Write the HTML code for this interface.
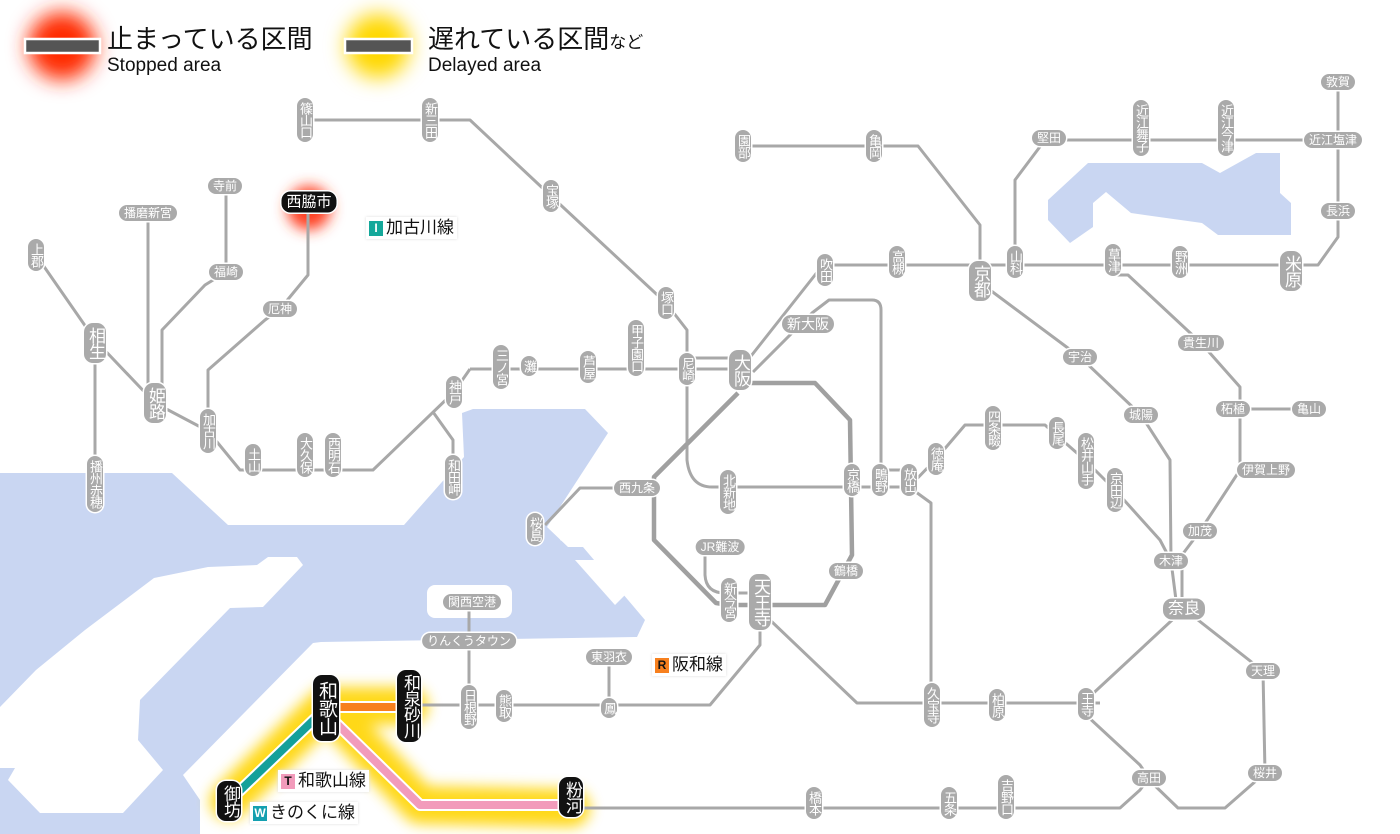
<!DOCTYPE html>
<html><head><meta charset="utf-8"><style>
body{margin:0;width:1400px;height:834px;overflow:hidden;background:#fff;font-family:"Liberation Sans","Noto Sans CJK JP",sans-serif;position:relative}
svg{position:absolute;left:0;top:0}
.s{position:absolute;transform:translate(-50%,-50%);background:#aaa;color:#fff;border-radius:9px;font-size:12px;line-height:14px;text-align:center;box-shadow:0 0 0 1.5px #fff;white-space:nowrap}
.h{padding:1px 5px}
.v{writing-mode:vertical-rl;padding:4px 1px;font-size:13px;line-height:14px;letter-spacing:-1px}
.b{font-size:17px;line-height:20px}
.k{background:#111;box-shadow:0 0 0 1.5px #fff}
.t{position:absolute;color:#111}
.lab{position:absolute;font-size:17px;color:#111;background:#fff;padding:1px 3px;box-shadow:0 0 3px #ddd;line-height:20px}
.sq{display:inline-block;width:14px;height:15px;line-height:15px;font-size:12px;color:#fff;text-align:center;margin-right:3px;vertical-align:1px;font-weight:bold}
</style></head><body>
<svg width="1400" height="834" viewBox="0 0 1400 834">
<defs>
<filter id="bl" x="-50%" y="-50%" width="200%" height="200%"><feGaussianBlur stdDeviation="10"/></filter>
<filter id="bl2" x="-50%" y="-50%" width="200%" height="200%"><feGaussianBlur stdDeviation="7"/></filter>
</defs>
<g fill="#c9d6f2">
<polygon points="0,473 172,473 228,525 404,525 464,457 462,413 473,409 585,409 608,433 547,527 568,547 583,547 645,620 637,637 321,642 313,643 183,775 200,800 200,834 0,834"/>
<polygon points="1088,163 1202,163 1220,173 1256,153 1280,153 1280,193 1291,203 1291,235 1218,235 1202,223 1131,213 1106,192 1093,203 1093,227 1070,243 1048,220 1048,200"/>
</g>
<g fill="#fff">
<polygon points="268,557 297,557 303,565 263,607 230,608 140,700 138,740 163,770 123,813 40,813 8,780 15,768 0,768 0,707 36,670 85,630 154,578 208,567 257,565"/>
<rect x="427" y="585" width="85" height="33" rx="8"/>
<polygon points="593,500 600,505 570,545 560,540"/>
<polygon points="575,560 600,560 625,595 615,605"/>
</g>
<circle cx="62" cy="46" r="34" fill="#ff2a00" filter="url(#bl)"/>
<circle cx="378" cy="46" r="32" fill="#ffd800" filter="url(#bl)"/>
<circle cx="309" cy="208" r="22" fill="#ff4020" filter="url(#bl2)"/>
<g fill="none" stroke="#ffd400" stroke-width="38" stroke-linejoin="round" stroke-linecap="round" filter="url(#bl2)" opacity="0.9">
<path d="M409,706 L326,706 L229,801 M326,706 L420,805 L571,808"/>
</g>
<rect x="25" y="39" width="75" height="14" fill="#555" stroke="#fff" stroke-width="2.5"/>
<rect x="345" y="39" width="67" height="14" fill="#555" stroke="#fff" stroke-width="2.5"/>
<g fill="none" stroke="#a8a8a8" stroke-width="3" stroke-linejoin="round">
<path d="M305,120 L470,120 L551,196 L666,303 L687,330 L687,460 Q690,487 712,487 L909,487"/>
<path d="M687,358 L740,358"/>
<path d="M470,369 L740,369"/>
<path d="M470,369 L454,392 L373,470 L240,470 L208,431 L155,403 L95,340 L36,255"/>
<path d="M433,412 L453,440 L453,480"/>
<path d="M95,340 L95,484"/>
<path d="M148,403 L148,213"/>
<path d="M162,400 L162,330 L205,285 L226,272 L226,186"/>
<path d="M208,431 L208,370 L265,320 L280,309 L308,275 L308,202"/>
<path d="M740,370 L815,275 Q822,265 835,265 L1318,265 L1338,237 L1338,82"/>
<path d="M753,372 L812,313 L829,300 L872,300 Q881,300 881,310 L881,487"/>
<path d="M743,146 L918,146 L980,225 L980,280"/>
<path d="M1015,262 L1015,180 L1045,140 L1333,140"/>
<path d="M990,290 L1080,357 L1141,415 L1170,460 L1171,561 L1176,600"/>
<path d="M1113,275 L1128,275 L1201,343 L1240,387 L1240,470 L1200,531 L1182,555 L1182,600"/>
<path d="M1233,409 L1309,409"/>
<path d="M1184,609 L1086,700 M1100,703 L857,703 L770,620"/>
<path d="M1184,609 L1263,671 L1265,773 L1225,808 L1178,808 L1149,780"/>
<path d="M1086,715 L1140,765 L1149,778 L1140,790 L1120,808 L571,808"/>
<path d="M909,487 L936,459 L965,425 L1045,425 L1086,461 L1115,490 L1160,540 L1171,561"/>
<path d="M909,487 L931,503 L931,707"/>
<path d="M637,488 L580,488 L545,525"/>
<path d="M705,548 L705,575 Q706,593 725,593 L760,593"/>
<path d="M760,602 L760,645 L710,705 L409,705"/>
<path d="M609,657 L609,705"/>
<path d="M469,602 L469,707"/>
<path d="M880,470 L909,470"/>
</g>
<path d="M742,383 L815,383 L850,420 L852,555 L825,605 L729,605 L716,603 L654,540 L654,477 L738,393" fill="none" stroke="#a0a0a0" stroke-width="4.5" stroke-linejoin="round"/>
<g fill="none" stroke-linejoin="round">
<path d="M326,707 L409,707" stroke="#fff" stroke-width="12"/>
<path d="M326,707 L409,707" stroke="#f7801e" stroke-width="8"/>
<path d="M322,712 L229,801" stroke="#fff" stroke-width="12"/>
<path d="M322,712 L229,801" stroke="#14a09a" stroke-width="8"/>
<path d="M335,722 L420,805 L571,805" stroke="#fff" stroke-width="12"/>
<path d="M335,722 L420,805 L571,805" stroke="#f29bbb" stroke-width="8"/>
</g>
</svg>

<div class="t" style="left:107px;top:24px;font-size:26px;line-height:30px">止まっている区間</div>
<div class="t" style="left:107px;top:55px;font-size:19px;line-height:22px">Stopped area</div>
<div class="t" style="left:428px;top:24px;font-size:26px;line-height:30px">遅れている区間<span style="font-size:17px">など</span></div>
<div class="t" style="left:428px;top:55px;font-size:19px;line-height:22px">Delayed area</div>

<div class="lab" style="left:366px;top:217px"><span class="sq" style="background:#14a89a">I</span>加古川線</div>
<div class="lab" style="left:652px;top:654px"><span class="sq" style="background:#f7801e;color:#111">R</span>阪和線</div>
<div class="lab" style="left:278px;top:770px"><span class="sq" style="background:#f29bbb;color:#111">T</span>和歌山線</div>
<div class="lab" style="left:250px;top:802px"><span class="sq" style="background:#14a0b0">W</span>きのくに線</div>

<div class="s v" style="left:305px;top:120px">篠山口</div>
<div class="s v" style="left:430px;top:120px">新三田</div>
<div class="s v" style="left:551px;top:196px">宝塚</div>
<div class="s v" style="left:666px;top:303px">塚口</div>
<div class="s v" style="left:687px;top:369px">尼崎</div>
<div class="s v" style="left:636px;top:348px">甲子園口</div>
<div class="s v" style="left:588px;top:367px">芦屋</div>
<div class="s v" style="left:529px;top:366px">灘</div>
<div class="s v" style="left:501px;top:367px">三ノ宮</div>
<div class="s v" style="left:454px;top:392px">神戸</div>
<div class="s v" style="left:453px;top:477px">和田岬</div>
<div class="s v" style="left:333px;top:455px">西明石</div>
<div class="s v" style="left:305px;top:455px">大久保</div>
<div class="s v" style="left:253px;top:460px">土山</div>
<div class="s v" style="left:208px;top:431px">加古川</div>
<div class="s v b" style="left:155px;top:403px">姫路</div>
<div class="s v b" style="left:95px;top:343px">相生</div>
<div class="s v" style="left:36px;top:255px">上郡</div>
<div class="s v" style="left:95px;top:484px">播州赤穂</div>
<div class="s v" style="left:743px;top:146px">園部</div>
<div class="s v" style="left:874px;top:146px">亀岡</div>
<div class="s v b" style="left:980px;top:281px">京都</div>
<div class="s v" style="left:1015px;top:262px">山科</div>
<div class="s v" style="left:1141px;top:128px">近江舞子</div>
<div class="s v" style="left:1226px;top:128px">近江今津</div>
<div class="s v b" style="left:1291px;top:271px">米原</div>
<div class="s v" style="left:1180px;top:262px">野洲</div>
<div class="s v" style="left:1113px;top:260px">草津</div>
<div class="s v" style="left:897px;top:262px">高槻</div>
<div class="s v" style="left:825px;top:270px">吹田</div>
<div class="s v b" style="left:740px;top:370px">大阪</div>
<div class="s v" style="left:1086px;top:704px">王寺</div>
<div class="s v" style="left:997px;top:705px">柏原</div>
<div class="s v" style="left:932px;top:705px">久宝寺</div>
<div class="s v" style="left:1006px;top:797px">吉野口</div>
<div class="s v" style="left:949px;top:803px">五条</div>
<div class="s v" style="left:814px;top:803px">橋本</div>
<div class="s v" style="left:993px;top:428px">四条畷</div>
<div class="s v" style="left:1057px;top:433px">長尾</div>
<div class="s v" style="left:1086px;top:461px">松井山手</div>
<div class="s v" style="left:1115px;top:490px">京田辺</div>
<div class="s v" style="left:936px;top:459px">徳庵</div>
<div class="s v" style="left:909px;top:480px">放出</div>
<div class="s v" style="left:880px;top:480px">鴫野</div>
<div class="s v" style="left:852px;top:480px">京橋</div>
<div class="s v" style="left:728px;top:492px">北新地</div>
<div class="s v" style="left:535px;top:529px">桜島</div>
<div class="s v" style="left:729px;top:600px">新今宮</div>
<div class="s v b" style="left:760px;top:602px">天王寺</div>
<div class="s v" style="left:609px;top:708px">鳳</div>
<div class="s v" style="left:504px;top:706px">熊取</div>
<div class="s v" style="left:469px;top:707px">日根野</div>
<div class="s h" style="left:148px;top:213px">播磨新宮</div>
<div class="s h" style="left:225px;top:186px">寺前</div>
<div class="s h" style="left:226px;top:272px">福崎</div>
<div class="s h" style="left:280px;top:309px">厄神</div>
<div class="s h" style="left:1049px;top:138px">堅田</div>
<div class="s h" style="left:1338px;top:82px">敦賀</div>
<div class="s h" style="left:1333px;top:140px">近江塩津</div>
<div class="s h" style="left:1338px;top:211px">長浜</div>
<div class="s h" style="left:808px;top:324px;font-size:14px;line-height:16px">新大阪</div>
<div class="s h" style="left:1080px;top:357px">宇治</div>
<div class="s h" style="left:1201px;top:343px">貴生川</div>
<div class="s h" style="left:1141px;top:415px">城陽</div>
<div class="s h" style="left:1233px;top:409px">柘植</div>
<div class="s h" style="left:1309px;top:409px">亀山</div>
<div class="s h" style="left:1266px;top:470px">伊賀上野</div>
<div class="s h" style="left:1200px;top:531px">加茂</div>
<div class="s h" style="left:1171px;top:561px">木津</div>
<div class="s h" style="left:1184px;top:609px;font-size:16px;line-height:19px">奈良</div>
<div class="s h" style="left:1263px;top:671px">天理</div>
<div class="s h" style="left:1265px;top:773px">桜井</div>
<div class="s h" style="left:1149px;top:778px">高田</div>
<div class="s h" style="left:637px;top:488px">西九条</div>
<div class="s h" style="left:720px;top:547px">JR難波</div>
<div class="s h" style="left:846px;top:571px">鶴橋</div>
<div class="s h" style="left:472px;top:602px">関西空港</div>
<div class="s h" style="left:469px;top:641px">りんくうタウン</div>
<div class="s h" style="left:609px;top:657px">東羽衣</div>
<div class="s h k" style="left:309px;top:202px;font-size:15px;line-height:19px">西脇市</div>
<div class="s v b k" style="left:409px;top:706px;width:22px">和泉砂川</div>
<div class="s v k" style="left:326px;top:708px;font-size:19px;line-height:24px;padding:6px 1px">和歌山</div>
<div class="s v b k" style="left:229px;top:801px;width:22px">御坊</div>
<div class="s v b k" style="left:571px;top:797px;width:22px">粉河</div>
</body></html>
